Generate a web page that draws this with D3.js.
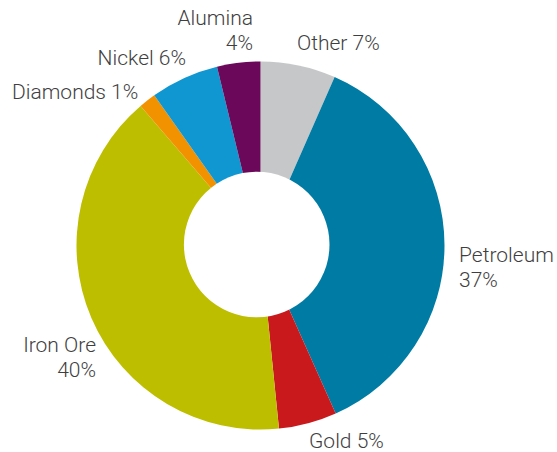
<!DOCTYPE html>
<html>
<head>
<meta charset="utf-8">
<script src="https://cdn.jsdelivr.net/npm/d3@7"></script>
<style>
  body { margin: 0; background: #fff; }
  text { font-family: Roboto, "Open Sans", sans-serif; font-weight: 300; fill: #3f3f3f; }
</style>
</head>
<body>
<div id="chart"></div>
<script>
// clockwise from 12 o'clock
var categories = ["Other", "Petroleum", "Gold", "Iron Ore", "Diamonds", "Nickel", "Alumina"];
// slice sizes as drawn
var values = [6.6, 36.7, 5.1, 40.3, 1.5, 6.0, 3.8];
// percentages printed on the labels
var pctLabels = [7, 37, 5, 40, 1, 6, 4];
var colours = ["#c6c7c9", "#007ba4", "#c9191c", "#bebe00", "#f39200", "#1097d2", "#6b0859"];

function init() {
    donut();
}

function donut() {
    var w = 557;
    var h = 452;
    var cx = 260.5, cy = 245.5;
    var outerR = 184;

    var svg = d3.select("#chart")
        .append("svg")
        .attr("width", w)
        .attr("height", h);

    var data = categories.map(function (c, i) {
        return { name: c, value: values[i], pct: pctLabels[i], colour: colours[i] };
    });

    var pie = d3.pie()
        .sort(null)
        .value(function (d) { return d.value; });

    var arc = d3.arc()
        .innerRadius(0)
        .outerRadius(outerR);

    var g = svg.append("g")
        .attr("transform", "translate(" + cx + "," + cy + ")");

    g.selectAll("path")
        .data(pie(data))
        .enter()
        .append("path")
        .attr("d", arc)
        .style("fill", function (d) { return d.data.colour; });

    // the hole sits a little off centre in the original
    svg.append("circle")
        .attr("cx", 256.7)
        .attr("cy", 244.5)
        .attr("r", 72.8)
        .style("fill", "#fff");

    // label placement: [x, y of first baseline, anchor, two lines?]
    var labelPos = {
        "Other":     [297, 50, "start", false],
        "Petroleum": [459, 262, "start", true],
        "Gold":      [309, 448, "start", false],
        "Iron Ore":  [96, 352, "end", true],
        "Diamonds":  [12, 99, "start", false],
        "Nickel":    [186, 65, "end", false],
        "Alumina":   [253, 25, "end", true]
    };

    data.forEach(function (d) {
        var p = labelPos[d.name];
        var t = svg.append("text")
            .attr("x", p[0])
            .attr("y", p[1])
            .attr("text-anchor", p[2])
            .style("font-size", "21px");
        if (p[3]) {
            t.append("tspan").attr("x", p[0]).text(d.name);
            t.append("tspan").attr("x", p[0]).attr("dy", 25).text(d.pct + "%");
        } else {
            t.text(d.name + " " + d.pct + "%");
        }
    });
}

window.onload = init;
</script>
</body>
</html>
